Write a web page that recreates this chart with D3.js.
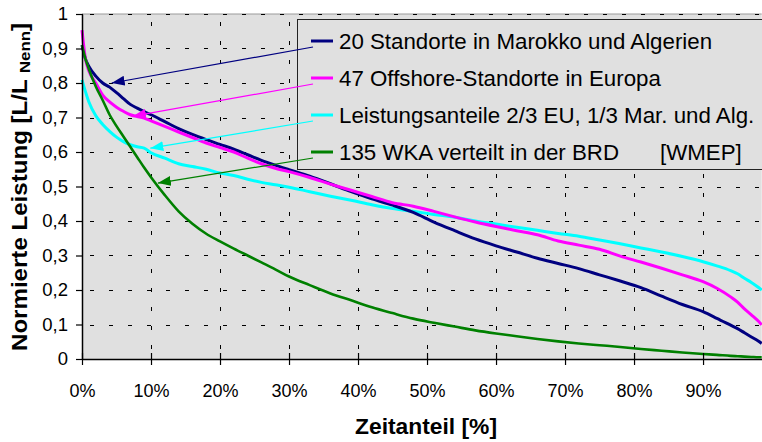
<!DOCTYPE html>
<html>
<head>
<meta charset="utf-8">
<script src="https://cdn.jsdelivr.net/npm/d3@7"></script>
<style>
  html, body { margin: 0; padding: 0; background: #fff; }
  svg { display: block; font-family: "Liberation Sans", Arial, sans-serif; }
</style>
</head>
<body>
<svg id="chart" width="762" height="442"></svg>
<script>
// ---------- data ----------
const timeShare = [0, 0.005, 0.01, 0.02, 0.03, 0.04, 0.05, 0.06, 0.07, 0.08, 0.09, 0.10,
  0.12, 0.14, 0.16, 0.18, 0.20, 0.22, 0.24, 0.26, 0.28, 0.30, 0.33, 0.36, 0.39, 0.42,
  0.45, 0.48, 0.51, 0.54, 0.57, 0.60, 0.63, 0.66, 0.69, 0.72, 0.75, 0.78, 0.81, 0.84,
  0.87, 0.90, 0.92, 0.94, 0.95, 0.96, 0.97, 0.98, 0.985];

const marokkoAlgerien = [0.91, 0.87, 0.848, 0.82, 0.80, 0.788, 0.772, 0.755, 0.738, 0.727, 0.717, 0.708,
  0.688, 0.668, 0.651, 0.636, 0.622, 0.608, 0.592, 0.576, 0.562, 0.549, 0.530, 0.508, 0.485, 0.464,
  0.446, 0.425, 0.397, 0.372, 0.348, 0.328, 0.310, 0.292, 0.277, 0.262, 0.244, 0.226, 0.207, 0.182,
  0.158, 0.137, 0.118, 0.098, 0.088, 0.076, 0.064, 0.052, 0.045];

const offshoreEuropa = [0.953, 0.87, 0.835, 0.80, 0.765, 0.745, 0.73, 0.718, 0.708, 0.703, 0.698, 0.69,
  0.674, 0.658, 0.642, 0.626, 0.613, 0.600, 0.582, 0.566, 0.553, 0.543, 0.526, 0.507, 0.489, 0.471,
  0.453, 0.443, 0.428, 0.412, 0.397, 0.384, 0.372, 0.360, 0.342, 0.330, 0.318, 0.298, 0.281, 0.263,
  0.244, 0.224, 0.205, 0.180, 0.165, 0.145, 0.128, 0.110, 0.099];

const mischung = [0.809, 0.775, 0.745, 0.705, 0.68, 0.66, 0.643, 0.63, 0.621, 0.615, 0.611, 0.598,
  0.582, 0.566, 0.558, 0.55, 0.539, 0.532, 0.521, 0.512, 0.505, 0.498, 0.485, 0.472, 0.46, 0.447,
  0.436, 0.428, 0.419, 0.411, 0.40, 0.391, 0.382, 0.373, 0.364, 0.356, 0.345, 0.334, 0.322, 0.31,
  0.297, 0.282, 0.27, 0.256, 0.247, 0.234, 0.222, 0.208, 0.2];

const wkaBRD = [0.91, 0.87, 0.84, 0.79, 0.75, 0.708, 0.675, 0.645, 0.615, 0.585, 0.555, 0.527,
  0.475, 0.428, 0.392, 0.363, 0.341, 0.32, 0.30, 0.28, 0.26, 0.239, 0.214, 0.19, 0.17, 0.15,
  0.133, 0.117, 0.105, 0.094, 0.083, 0.074, 0.066, 0.058, 0.051, 0.045, 0.04, 0.035, 0.029, 0.024,
  0.019, 0.0145, 0.012, 0.009, 0.008, 0.007, 0.006, 0.005, 0.005];

const seriesNames = ["20 Standorte in Marokko und Algerien", "47 Offshore-Standorte in Europa",
  "Leistungsanteile 2/3 EU, 1/3 Mar. und Alg.", "135 WKA verteilt in der BRD"];
const seriesColors = ["#000080", "#ff00ff", "#00ffff", "#008000"];
const seriesValues = [marokkoAlgerien, offshoreEuropa, mischung, wkaBRD];
const sourceNote = "[WMEP]";

// arrow tips (data units) pointing from legend entries to curves
const arrowTipX = [0.043, 0.074, 0.099, 0.110];
const arrowTipY = [0.800, 0.704, 0.611, 0.510];

const xTicks = [0, 0.1, 0.2, 0.3, 0.4, 0.5, 0.6, 0.7, 0.8, 0.9];
const xTickLabels = ["0%", "10%", "20%", "30%", "40%", "50%", "60%", "70%", "80%", "90%"];
const yTicks = [0, 0.1, 0.2, 0.3, 0.4, 0.5, 0.6, 0.7, 0.8, 0.9, 1];
const yTickLabels = ["0", "0,1", "0,2", "0,3", "0,4", "0,5", "0,6", "0,7", "0,8", "0,9", "1"];

// ---------- layout ----------
const svg = d3.select("#chart");
const W = 762, H = 442;
const x = d3.scaleLinear().domain([0, 0.985]).range([82, 761.7]);
const y = d3.scaleLinear().domain([0, 1]).range([359, 14]);
const [x0, x1] = x.range();
const [y0, y1] = y.range();

svg.append("rect").attr("width", W).attr("height", H).attr("fill", "#fff");

// plot background
svg.append("rect").attr("x", x0).attr("y", y1).attr("width", x1 - x0).attr("height", y0 - y1)
  .attr("fill", "#e0e0e0");

// top border
svg.append("line").attr("x1", x0).attr("x2", x1).attr("y1", y1).attr("y2", y1)
  .attr("stroke", "#9a9a9a").attr("stroke-width", 1);

// grid
const grid = svg.append("g").attr("stroke", "#000").attr("stroke-width", 1)
  .attr("stroke-dasharray", "4,15").attr("fill", "none");
yTicks.filter(d => d > 0).forEach(d => {
  grid.append("line").attr("x1", x0 + 8).attr("x2", x1).attr("y1", Math.round(y(d)) + 0.5).attr("y2", Math.round(y(d)) + 0.5);
});
xTicks.filter(d => d > 0).forEach(d => {
  grid.append("line").attr("x1", Math.round(x(d)) + 0.5).attr("x2", Math.round(x(d)) + 0.5).attr("y1", y1 + 8).attr("y2", y0);
});

// curves
const line = d3.line().x((d, i) => x(timeShare[i])).y(d => y(d)).curve(d3.curveMonotoneX);
const drawOrder = [2, 0, 1, 3];
drawOrder.forEach(k => {
  svg.append("path").datum(seriesValues[k]).attr("d", line)
    .attr("fill", "none").attr("stroke", seriesColors[k])
    .attr("stroke-width", k === 3 ? 2.6 : 3).attr("stroke-linejoin", "round");
});

// axes
const xAxis = d3.axisBottom(x).tickValues(xTicks).tickFormat((d, i) => xTickLabels[i])
  .tickSizeInner(6).tickSizeOuter(0).tickPadding(19);
const gx = svg.append("g").attr("transform", `translate(0,${y0})`).call(xAxis);
gx.select(".domain").attr("stroke", "#000").attr("stroke-width", 1.5);
gx.selectAll(".tick line").attr("y1", -6).attr("stroke", "#000").attr("stroke-width", 1.2);
gx.selectAll(".tick text").attr("font-size", 18).attr("fill", "#000")
  .attr("font-family", "Liberation Sans, Arial, sans-serif");

const yAxis = d3.axisLeft(y).tickValues(yTicks).tickFormat((d, i) => yTickLabels[i])
  .tickSizeInner(6).tickSizeOuter(0).tickPadding(8);
const gy = svg.append("g").attr("transform", `translate(${x0},0)`).call(yAxis);
gy.select(".domain").attr("stroke", "#000").attr("stroke-width", 1.5);
gy.selectAll(".tick line").attr("x2", 1).attr("x1", -6).attr("stroke", "#000").attr("stroke-width", 1.2);
gy.selectAll(".tick text").attr("font-size", 18.5).attr("fill", "#000")
  .attr("font-family", "Liberation Sans, Arial, sans-serif");

// legend
const lgX = 297, lgY = 19, lgRowY = [41, 78, 115, 152];
const legend = svg.append("g");
legend.append("rect").attr("x", lgX + 0.5).attr("y", lgY + 0.5).attr("width", W + 10 - lgX).attr("height", 150)
  .attr("fill", "#e0e0e0").attr("stroke", "#222").attr("stroke-width", 1);
seriesNames.forEach((name, i) => {
  legend.append("line").attr("x1", 311).attr("x2", 333).attr("y1", lgRowY[i]).attr("y2", lgRowY[i])
    .attr("stroke", seriesColors[i]).attr("stroke-width", 3);
  legend.append("text").attr("x", 339).attr("y", lgRowY[i]).attr("dy", "0.36em")
    .attr("font-size", 22.3).attr("fill", "#000").text(name);
});
legend.append("text").attr("x", 660).attr("y", lgRowY[3]).attr("dy", "0.36em")
  .attr("font-size", 22.3).attr("fill", "#000").text(sourceNote);

// arrows
const defs = svg.append("defs");
seriesColors.forEach((c, i) => {
  defs.append("marker").attr("id", "ah" + i).attr("viewBox", "0 0 13 10")
    .attr("refX", 13).attr("refY", 5).attr("markerWidth", 13).attr("markerHeight", 10)
    .attr("markerUnits", "userSpaceOnUse").attr("orient", "auto")
    .append("path").attr("d", "M0,0 L13,5 L0,10 Z").attr("fill", c);
});
seriesColors.forEach((c, i) => {
  svg.append("line").attr("x1", 313).attr("y1", lgRowY[i] + 6)
    .attr("x2", x(arrowTipX[i])).attr("y2", y(arrowTipY[i]))
    .attr("stroke", c).attr("stroke-width", 1.2).attr("marker-end", `url(#ah${i})`);
});

// axis titles
svg.append("text").attr("x", 426).attr("y", 426).attr("dy", "0.36em").attr("text-anchor", "middle")
  .attr("font-size", 22).attr("font-weight", "bold").attr("fill", "#000")
  .attr("textLength", 142).attr("lengthAdjust", "spacingAndGlyphs").text("Zeitanteil [%]");

const yl = svg.append("text").attr("transform", "translate(27,187) rotate(-90)")
  .attr("text-anchor", "middle").attr("font-size", 21.5).attr("font-weight", "bold").attr("fill", "#000")
  .attr("textLength", 328).attr("lengthAdjust", "spacingAndGlyphs");
yl.append("tspan").text("Normierte Leistung [L/L ");
yl.append("tspan").attr("font-size", 15).attr("dy", 3).text("Nenn");
yl.append("tspan").attr("dy", -3).text("]");
</script>
</body>
</html>
